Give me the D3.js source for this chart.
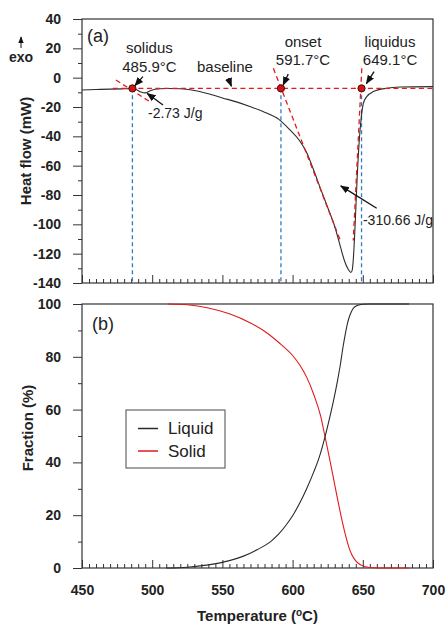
<!DOCTYPE html>
<html><head><meta charset="utf-8">
<script src="https://cdn.jsdelivr.net/npm/d3@7"></script>
<style>
html,body{margin:0;padding:0;background:#fff;}
svg{display:block;font-family:Arial,"Liberation Sans",sans-serif;}
</style></head>
<body><svg id="chart" width="446" height="624"></svg>
<script>
// ---------- data ----------
const dscTemp = [450,460,470,480,486,489,492,495,498,502,510,520,530,540,550,560,570,580,590,598,605,610,615,620,625,630,634,637,639.5,641.5,642.5,643.5,644.5,646,647.5,648.7,650.4,652.8,657.5,667,676.5,700];
const dscHeat = [-8.4,-8.1,-7.8,-7.6,-7.5,-8.3,-9.8,-10.4,-9.2,-7.9,-7.4,-7.6,-8.8,-11,-13.8,-16.5,-19.8,-23.5,-28.3,-35.5,-43,-51,-63,-76,-88.5,-101.5,-115,-125,-130.5,-132.8,-131,-120,-101,-68,-42.5,-29,-17.5,-12.9,-9.5,-7.2,-6.4,-6.1];

const solidTemp = [511,525,540,555,570,580,590,600,605,610,615,620,623,626,629,632,635,638,640,642,645,648,652,658,665,683];
const solidFrac = [100,99.7,98.5,96.3,92.8,89.7,85.5,80.5,77,72.3,65.8,57.5,50,42.3,34.3,26.2,18.5,11.8,8,5.2,2.7,1.3,0.5,0.1,0,0];

const liquidTemp = [510,525,540,555,565,575,585,590,595,600,605,610,615,619,623,626,629,632,634,636,637.5,639,641,643,646,650,655,683];
const liquidFrac = [0,0.3,1.2,2.8,4.5,7,10.3,12.8,16,19.8,24.5,30,36.3,42,49.5,56,63,71,77,84,88.5,92.5,96,98.2,99.4,99.9,100,100];

const tempTicks = [450,500,550,600,650,700];
const heatTicks = [40,20,0,-20,-40,-60,-80,-100,-120,-140];
const fracTicks = [0,20,40,60,80,100];

const baselineHeat = -7.3;
const eventTemps = [485.9, 591.7, 649.1];
const eventNames = ["solidus","onset","liquidus"];
const eventLabels = ["485.9\u00B0C","591.7\u00B0C","649.1\u00B0C"];
const solidusTangent = [[474.2,-1.6],[498,-16.2]];
const onsetTangent = [[586.3,6.4],[634,-111]];
const liquidusTangent = [[649.3,6.4],[643.2,-111]];
const legendNames = ["Liquid","Solid"];

// ---------- layout ----------
const svg = d3.select("#chart");
const L = 82, R = 433;
const topT = 19, topB = 283, botT = 304, botB = 568;
const textCol = "#222", curveCol = "#2b2b2b", redCol = "#e3191c", blueCol = "#2f7dc2";

const x = d3.scaleLinear().domain([450,700]).range([L,R]);
const yH = d3.scaleLinear().domain([-140,40]).range([topB,topT]);
const yF = d3.scaleLinear().domain([0,100]).range([botB,botT]);

const defs = svg.append("defs");
defs.append("marker").attr("id","ah").attr("viewBox","0 0 10 10").attr("refX",9).attr("refY",5)
  .attr("markerWidth",7).attr("markerHeight",7).attr("orient","auto-start-reverse")
  .append("path").attr("d","M0,1 L10,5 L0,9 Z").attr("fill","#111");

function styleAxis(g){
  g.select(".domain").remove();
  g.selectAll("line").attr("stroke","#333");
  g.selectAll("text").attr("fill",textCol).attr("font-weight","bold").attr("font-size","14px").attr("font-family","Arial, 'Liberation Sans', sans-serif");
}
const minorX = d3.range(455,700,5).filter(d=>d%50!==0);
const plain = d=>String(d);

function panel(yScale, top, bottom, majors, minors, showXLabels){
  svg.append("g").attr("transform",`translate(${L},0)`)
    .call(d3.axisLeft(yScale).tickValues(majors).tickSize(9).tickPadding(12).tickFormat(plain))
    .call(styleAxis);
  svg.append("g").attr("transform",`translate(${L},0)`)
    .call(d3.axisLeft(yScale).tickValues(minors).tickSize(4).tickFormat(""))
    .call(styleAxis);
  const xa = svg.append("g").attr("transform",`translate(0,${bottom})`)
    .call(d3.axisBottom(x).tickValues(tempTicks).tickSizeInner(-8).tickSizeOuter(0).tickPadding(17).tickFormat(showXLabels?plain:""))
    .call(styleAxis);
  xa.selectAll("text").attr("dy","0.71em");
  svg.append("g").attr("transform",`translate(0,${bottom})`)
    .call(d3.axisBottom(x).tickValues(minorX).tickSizeInner(-4).tickSizeOuter(0).tickFormat(""))
    .call(styleAxis);
  svg.append("rect").attr("x",L).attr("y",top).attr("width",R-L).attr("height",bottom-top)
    .attr("fill","none").attr("stroke","#333").attr("stroke-width",1.2);
}

panel(yH, topT, topB, heatTicks, d3.range(30,-140,-20), false);
panel(yF, botT, botB, fracTicks, d3.range(10,100,20), true);

// ---------- top panel ----------
const gA = svg.append("g");
gA.selectAll("line.blue").data(eventTemps).join("line")
  .attr("x1",d=>x(d)).attr("x2",d=>x(d)).attr("y1",yH(baselineHeat)).attr("y2",topB)
  .attr("stroke",blueCol).attr("stroke-width",1.3).attr("stroke-dasharray","4,3");

const dscData = dscTemp.map((t,i)=>[t,dscHeat[i]]);
gA.append("path").datum(dscData)
  .attr("d",d3.line().x(d=>x(d[0])).y(d=>yH(d[1])).curve(d3.curveMonotoneX))
  .attr("fill","none").attr("stroke",curveCol).attr("stroke-width",1.1);

gA.append("line").attr("x1",x(472)).attr("x2",x(700)).attr("y1",yH(baselineHeat)).attr("y2",yH(baselineHeat))
  .attr("stroke",redCol).attr("stroke-width",1.3).attr("stroke-dasharray","5,3.5");
[solidusTangent,onsetTangent,liquidusTangent].forEach(s=>{
  gA.append("line").attr("x1",x(s[0][0])).attr("y1",yH(s[0][1])).attr("x2",x(s[1][0])).attr("y2",yH(s[1][1]))
    .attr("stroke",redCol).attr("stroke-width",1.3).attr("stroke-dasharray","5,3.5");
});

gA.selectAll("circle").data(eventTemps).join("circle")
  .attr("cx",d=>x(d)).attr("cy",yH(baselineHeat)).attr("r",3.6)
  .attr("fill","#d41414").attr("stroke","#4a0c0c").attr("stroke-width",1);

const eventLabelPos = [[498,16.8,3.9],[607.4,20.9,8.3],[669.4,20.9,8.3]];
eventNames.forEach((n,i)=>{
  const p = eventLabelPos[i];
  gA.append("text").attr("x",x(p[0])).attr("y",yH(p[1])).attr("text-anchor","middle")
    .attr("font-size","15px").attr("fill",textCol).text(n);
  gA.append("text").attr("x",x(p[0])).attr("y",yH(p[2])).attr("text-anchor","middle")
    .attr("font-size","15px").attr("fill",textCol).text(eventLabels[i]);
});
gA.append("text").attr("x",x(531.9)).attr("y",yH(3.9)).attr("font-size","15px").attr("fill",textCol).text("baseline");
gA.append("text").attr("x",x(497)).attr("y",yH(-27.5)).attr("font-size","14px").attr("fill",textCol).text("-2.73 J/g");
gA.append("text").attr("x",x(650.1)).attr("y",yH(-100.4)).attr("font-size","14px").attr("fill",textCol).text("-310.66 J/g");
gA.append("text").attr("x",87).attr("y",42).attr("font-size","18px").attr("fill",textCol).text("(a)");

const arrows = [[[493.4,0.7],[487.7,-5.4]],[[507.7,-18.6],[496.5,-10.8]],[[554.2,-0.4],[556.4,-5.8]],
  [[596.9,2.5],[593.3,-5.0]],[[658,4.1],[652.6,-4.0]],[[659.9,-89],[634.3,-73.8]]];
arrows.forEach(a=>{
  gA.append("line").attr("x1",x(a[0][0])).attr("y1",yH(a[0][1])).attr("x2",x(a[1][0])).attr("y2",yH(a[1][1]))
    .attr("stroke","#111").attr("stroke-width",1.3).attr("marker-end","url(#ah)");
});

svg.append("line").attr("x1",21).attr("x2",21).attr("y1",48).attr("y2",37)
  .attr("stroke","#111").attr("stroke-width",1).attr("marker-end","url(#ah)");
svg.append("text").attr("x",21).attr("y",62).attr("text-anchor","middle").attr("font-size","14px")
  .attr("font-weight","bold").attr("fill",textCol).text("exo");

svg.append("text").attr("transform",`translate(31,${(topT+topB)/2}) rotate(-90)`).attr("text-anchor","middle")
  .attr("font-size","15px").attr("font-weight","bold").attr("fill",textCol).text("Heat flow (mW)");
svg.append("text").attr("transform",`translate(33,${(botT+botB)/2 - 8}) rotate(-90)`).attr("text-anchor","middle")
  .attr("font-size","15px").attr("font-weight","bold").attr("fill",textCol).text("Fraction (%)");
const xt = svg.append("text").attr("x",(L+R)/2).attr("y",621).attr("text-anchor","middle")
  .attr("font-size","15px").attr("font-weight","bold").attr("fill",textCol);
xt.append("tspan").text("Temperature (");
xt.append("tspan").attr("font-size","10px").attr("dy","-5").text("o");
xt.append("tspan").attr("dy","5").text("C)");

// ---------- bottom panel ----------
const gB = svg.append("g");
const fl = d3.line().x(d=>x(d[0])).y(d=>yF(d[1])).curve(d3.curveMonotoneX);
gB.append("path").datum(solidTemp.map((t,i)=>[t,solidFrac[i]])).attr("d",fl)
  .attr("fill","none").attr("stroke",redCol).attr("stroke-width",1.1);
gB.append("path").datum(liquidTemp.map((t,i)=>[t,liquidFrac[i]])).attr("d",fl)
  .attr("fill","none").attr("stroke",curveCol).attr("stroke-width",1.1);
gB.append("text").attr("x",92).attr("y",330).attr("font-size","18px").attr("fill",textCol).text("(b)");

const lg = svg.append("g");
lg.append("rect").attr("x",126).attr("y",410).attr("width",99).attr("height",58)
  .attr("fill","#fff").attr("stroke","#666").attr("stroke-width",1.2);
[curveCol, redCol].forEach((c,i)=>{
  const yy = 428.5 + i*22.5;
  lg.append("line").attr("x1",138).attr("x2",158).attr("y1",yy).attr("y2",yy).attr("stroke",c).attr("stroke-width",1.5);
  lg.append("text").attr("x",168).attr("y",yy+5.5).attr("font-size","17px").attr("fill",textCol).text(legendNames[i]);
});
</script></body></html>
